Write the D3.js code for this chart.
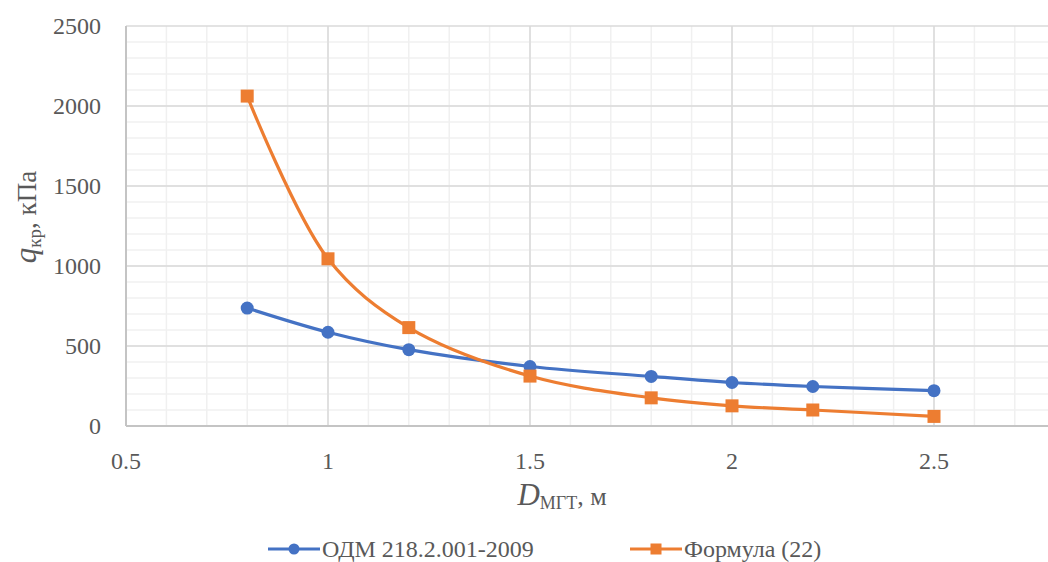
<!DOCTYPE html>
<html>
<head>
    <meta charset="UTF-8">
    <style>
        body { margin: 0; background: #fff; }
        svg { display: block; }
        svg text { font-family: "Liberation Serif", "DejaVu Serif", serif; }
    </style>
</head>
<body>
    <svg></svg>
    <script src="https://d3js.org/d3.v7.min.js"></script>
    <script>
        const w = 1048, h = 562;

        // data
        const diameters = [0.8, 1.0, 1.2, 1.5, 1.8, 2.0, 2.2, 2.5];
        const odmValues = [737, 586, 477, 372, 310, 272, 247, 221];
        const formulaValues = [2062, 1045, 615, 312, 176, 126, 100, 60];
        const xTicks = [0.5, 1, 1.5, 2, 2.5];
        const yTicks = [0, 500, 1000, 1500, 2000, 2500];
        const seriesNames = ["ОДМ 218.2.001-2009", "Формула (22)"];

        const plot = { left: 126, top: 26, bottom: 426, right: w };
        const serif = "Liberation Serif, DejaVu Serif, serif";

        const svg = d3.select("svg").attr("width", w).attr("height", h);

        // 0.5 units = 202 px
        const x = d3.scaleLinear().domain([0.5, 3]).range([plot.left, plot.left + 2.5 * 404]);
        const y = d3.scaleLinear().domain([0, 2500]).range([plot.bottom, plot.top]);

        svg.append("clipPath").attr("id", "clip")
            .append("rect")
            .attr("x", plot.left).attr("y", plot.top - 2)
            .attr("width", plot.right - plot.left).attr("height", plot.bottom - plot.top + 4);

        const grid = svg.append("g").attr("clip-path", "url(#clip)");

        // minor grid
        grid.selectAll("line.vminor")
            .data(d3.range(6, 30).map(d => d / 10))
            .enter().append("line")
            .attr("x1", d => x(d)).attr("x2", d => x(d))
            .attr("y1", plot.top).attr("y2", plot.bottom)
            .attr("stroke", "#f0f0f0").attr("stroke-width", 1.5);

        grid.selectAll("line.hminor")
            .data(d3.range(1, 25).map(d => d * 100))
            .enter().append("line")
            .attr("x1", plot.left).attr("x2", plot.right)
            .attr("y1", d => y(d)).attr("y2", d => y(d))
            .attr("stroke", "#f0f0f0").attr("stroke-width", 1.5);

        // major grid
        grid.selectAll("line.vmajor")
            .data([1, 1.5, 2, 2.5, 3])
            .enter().append("line")
            .attr("x1", d => x(d)).attr("x2", d => x(d))
            .attr("y1", plot.top).attr("y2", plot.bottom)
            .attr("stroke", "#dadada").attr("stroke-width", 1.5);

        grid.selectAll("line.hmajor")
            .data(yTicks.slice(1))
            .enter().append("line")
            .attr("x1", plot.left).attr("x2", plot.right)
            .attr("y1", d => y(d)).attr("y2", d => y(d))
            .attr("stroke", "#dadada").attr("stroke-width", 1.5);

        // axis lines
        svg.append("line")
            .attr("x1", plot.left).attr("x2", plot.left)
            .attr("y1", plot.top).attr("y2", plot.bottom)
            .attr("stroke", "#c4c4c4").attr("stroke-width", 2);
        svg.append("line")
            .attr("x1", plot.left).attr("x2", plot.right)
            .attr("y1", plot.bottom).attr("y2", plot.bottom)
            .attr("stroke", "#c4c4c4").attr("stroke-width", 2);

        // tick labels
        svg.append("g").selectAll("text")
            .data(yTicks)
            .enter().append("text")
            .attr("x", 101)
            .attr("y", d => y(d) + 8)
            .attr("text-anchor", "end")
            .attr("font-family", serif)
            .attr("font-size", "24px")
            .attr("fill", "#595959")
            .text(d => d);

        svg.append("g").selectAll("text")
            .data(xTicks)
            .enter().append("text")
            .attr("x", d => x(d))
            .attr("y", 469)
            .attr("text-anchor", "middle")
            .attr("font-family", serif)
            .attr("font-size", "24px")
            .attr("fill", "#595959")
            .text(d => d);

        // axis titles
        const yTitle = svg.append("text")
            .attr("transform", "translate(36,217) rotate(-90)")
            .attr("text-anchor", "middle")
            .attr("font-family", serif)
            .attr("fill", "#595959")
            .attr("font-size", "27px");
        yTitle.append("tspan").attr("font-style", "italic").attr("font-size", "31px").text("q");
        yTitle.append("tspan").attr("font-size", "19px").attr("dy", 5).text("кр");
        yTitle.append("tspan").attr("dy", -5).text(", кПа");

        const xTitle = svg.append("text")
            .attr("x", 562).attr("y", 505)
            .attr("text-anchor", "middle")
            .attr("font-family", serif)
            .attr("fill", "#595959")
            .attr("font-size", "26px");
        xTitle.append("tspan").attr("font-style", "italic").attr("font-size", "31px").text("D");
        xTitle.append("tspan").attr("font-size", "18px").attr("dy", 4).text("МГТ");
        xTitle.append("tspan").attr("dy", -4).text(", м");

        // series
        const colors = ["#4472c4", "#ed7d31"];
        const allSeries = [odmValues, formulaValues];

        const line = d3.line()
            .x((d, i) => x(diameters[i]))
            .y(d => y(d))
            .curve(d3.curveCatmullRom.alpha(0.5));

        allSeries.forEach((vals, k) => {
            svg.append("path")
                .datum(vals)
                .attr("d", line)
                .attr("fill", "none")
                .attr("stroke", colors[k])
                .attr("stroke-width", 3.2);
        });

        // markers
        svg.append("g").selectAll("circle")
            .data(odmValues)
            .enter().append("circle")
            .attr("cx", (d, i) => x(diameters[i]))
            .attr("cy", d => y(d))
            .attr("r", 6.5)
            .attr("fill", colors[0]);

        svg.append("g").selectAll("rect")
            .data(formulaValues)
            .enter().append("rect")
            .attr("x", (d, i) => x(diameters[i]) - 6.5)
            .attr("y", d => y(d) - 6.5)
            .attr("width", 13).attr("height", 13)
            .attr("fill", colors[1]);

        // legend
        const legendItems = [
            { x: 268, name: seriesNames[0], color: colors[0], shape: "circle" },
            { x: 630, name: seriesNames[1], color: colors[1], shape: "rect" }
        ];
        const legendY = 549;
        const lg = svg.append("g").selectAll("g")
            .data(legendItems)
            .enter().append("g");
        lg.append("line")
            .attr("x1", d => d.x).attr("x2", d => d.x + 52)
            .attr("y1", legendY).attr("y2", legendY)
            .attr("stroke", d => d.color).attr("stroke-width", 3);
        lg.filter(d => d.shape === "circle").append("circle")
            .attr("cx", d => d.x + 26).attr("cy", legendY).attr("r", 5.5)
            .attr("fill", d => d.color);
        lg.filter(d => d.shape === "rect").append("rect")
            .attr("x", d => d.x + 20.5).attr("y", legendY - 5.5)
            .attr("width", 11).attr("height", 11)
            .attr("fill", d => d.color);
        lg.append("text")
            .attr("x", d => d.x + 54)
            .attr("y", legendY + 8)
            .attr("font-family", serif)
            .attr("font-size", "24px")
            .attr("fill", "#595959")
            .text(d => d.name);
    </script>
</body>
</html>
